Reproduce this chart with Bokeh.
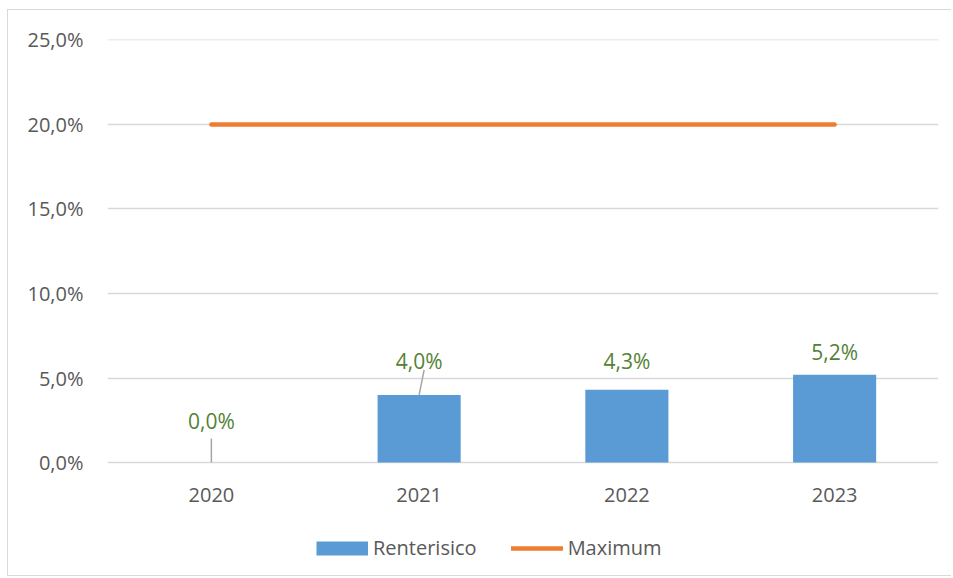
from bokeh.plotting import figure
from bokeh.models import Range1d, FixedTicker, Legend, LegendItem, ColumnDataSource
from bokeh.core.properties import value
from bokeh.embed import file_html
from bokeh.resources import INLINE

# ---- data ----
categories = ["2020", "2021", "2022", "2023"]
renterisico = [0.0, 4.0, 4.3, 5.2]
maximum = [20.0, 20.0, 20.0, 20.0]
data_labels = ["0,0%", "4,0%", "4,3%", "5,2%"]
y_ticks = [0, 5, 10, 15, 20, 25]
y_tick_labels = ["0,0%", "5,0%", "10,0%", "15,0%", "20,0%", "25,0%"]

# ---- styles ----
label_offsets_px = [-42, -34, -29, -23]   # label centre above bar top
FONT = "Open Sans"
GREY = "#595959"
BLUE = "#5B9BD5"
ORANGE = "#ED7D31"

# frame geometry (px): plot area 423 px tall for 0..25 %, 115 px below zero for axis + legend
PLOT_H = 423.0
BELOW_H = 115.0
y_start = -BELOW_H * 25.0 / PLOT_H

xs = [i + 0.5 for i in range(len(categories))]

p = figure(width=944, height=567, output_backend="svg", toolbar_location=None,
           x_range=Range1d(0, len(categories)), y_range=Range1d(y_start, 25.02),
           x_axis_location=None,
           min_border_left=99, min_border_right=14, min_border_top=29, min_border_bottom=0)
p.styles = {"border": "1px solid #D9D9D9", "border-right": "none",
            "margin-left": "7px", "margin-top": "9px"}
p.outline_line_color = None
p.background_fill_color = "white"
p.border_fill_color = "white"

# y axis
p.yaxis.ticker = FixedTicker(ticks=y_ticks)
p.yaxis.major_label_overrides = {t: l for t, l in zip(y_ticks, y_tick_labels)}
p.yaxis.axis_line_color = None
p.yaxis.major_tick_line_color = None
p.yaxis.minor_tick_line_color = None
p.yaxis.major_tick_out = 0
p.yaxis.major_label_text_font = FONT
p.yaxis.major_label_text_font_size = "20px"
p.yaxis.major_label_text_color = GREY
p.yaxis.major_label_standoff = 24
p.xgrid.visible = False
p.ygrid.grid_line_color = "#D9D9D9"
p.ygrid.grid_line_width = 1.4

# category labels under the zero line
p.text(x=xs, y=[0] * len(xs), text=categories, y_offset=32, text_align="center",
       text_baseline="middle", text_color=GREY, text_font=value(FONT), text_font_size="20px")

# bars
bars = p.vbar(x=xs, top=renterisico, width=0.4, fill_color=BLUE, line_color=None)

# max line
line = p.line(x=xs, y=maximum, line_color=ORANGE, line_width=4.5, line_cap="round")

# legend swatch for the bars (a non-drawn placeholder renderer styled as a thick bar)
nan = float("nan")
swatch = p.line(x=[nan], y=[nan], line_color=BLUE, line_width=14, line_cap="butt")

# leader lines (2020, 2021)
px_per_unit_y = PLOT_H / 25.0
px_per_unit_x = 831.0 / 4.0
lx0 = [xs[0], xs[1]]
ly0 = [renterisico[0], renterisico[1]]
lx1 = [xs[0], xs[1] + 5 / px_per_unit_x]
ly1 = [renterisico[0] + 24 / px_per_unit_y, renterisico[1] + 25 / px_per_unit_y]
p.segment(x0=lx0, y0=ly0, x1=lx1, y1=ly1, line_color="#A6A6A6", line_width=1.5)

# data labels
src = ColumnDataSource(dict(x=xs, y=renterisico, t=data_labels, off=label_offsets_px))
p.text(x="x", y="y", text="t", y_offset="off", source=src, text_align="center",
       text_baseline="middle", text_color="#548235", text_font=value(FONT),
       text_font_size="21px")

# legend
leg = Legend(items=[LegendItem(label="Renterisico", renderers=[swatch]),
                    LegendItem(label="Maximum", renderers=[line])],
             orientation="horizontal", location=(209, 16), padding=0, margin=0,
             border_line_color=None, background_fill_alpha=0,
             label_text_font=FONT, label_text_font_size="20px", label_text_color=GREY,
             glyph_width=52, glyph_height=18, label_standoff=5, spacing=34)
p.add_layout(leg, "center")

open("out.html", "w").write(file_html(p, INLINE))
